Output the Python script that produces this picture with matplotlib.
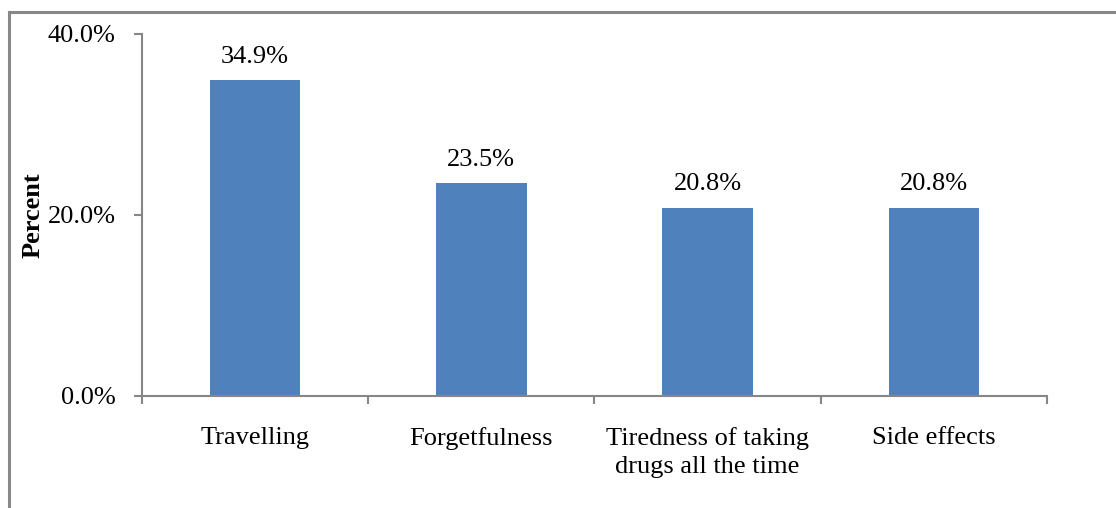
import numpy as np
import matplotlib.pyplot as plt
from matplotlib.lines import Line2D

# reasons for missing doses
categories = ['Travelling', 'Forgetfulness', 'Tiredness of taking\ndrugs all the time', 'Side effects']
percent = [34.9, 23.5, 20.8, 20.8]
labels = ['34.9%', '23.5%', '20.8%', '20.8%']
yticks = [0, 20, 40]

plt.rcParams['font.family'] = ['Liberation Serif', 'DejaVu Serif']
fs = 19

fig = plt.figure(figsize=(11.16, 5.08), dpi=100)
ax = fig.add_axes([0.1272, 0.2205, 0.811, 0.7126])

x = np.arange(len(categories))
bars = ax.bar(x, percent, width=0.4, color='#4F81BD')

for b, lab in zip(bars, labels):
    ax.annotate(lab, (b.get_x() + b.get_width() / 2, b.get_height()),
                xytext=(0, 9), textcoords='offset points',
                ha='center', va='bottom', fontsize=fs)

ax.set_xlim(-0.5, len(categories) - 0.5)
ax.set_ylim(0, 40)
ax.set_yticks(yticks)
ax.set_yticklabels(['%.1f%%' % v for v in yticks], fontsize=fs)
ax.set_xticks(x)
ax.set_xticklabels(categories, fontsize=fs, linespacing=1.4)
ax.set_xticks(np.arange(len(categories) + 1) - 0.5, minor=True)
ax.tick_params(axis='x', which='major', length=0, pad=22)
ax.tick_params(axis='x', which='minor', length=6, color='#868686', width=1.5)
ax.tick_params(axis='y', length=6, color='#868686', width=1.5, pad=13)

for s in ['top', 'right']:
    ax.spines[s].set_visible(False)
for s in ['left', 'bottom']:
    ax.spines[s].set_color('#868686')
    ax.spines[s].set_linewidth(1.5)

ax.set_ylabel('Percent', fontsize=fs, fontweight='bold')
ax.yaxis.set_label_coords(-0.108, 0.5)

# outer chart border (only top and left are inside the picture)
fig.add_artist(Line2D([9 / 1116, 9 / 1116], [0, 1 - 12 / 508], color='#888888', lw=2.2))
fig.add_artist(Line2D([9 / 1116, 1], [1 - 12 / 508, 1 - 12 / 508], color='#888888', lw=2.2))

fig.savefig('out.png', dpi=100)
